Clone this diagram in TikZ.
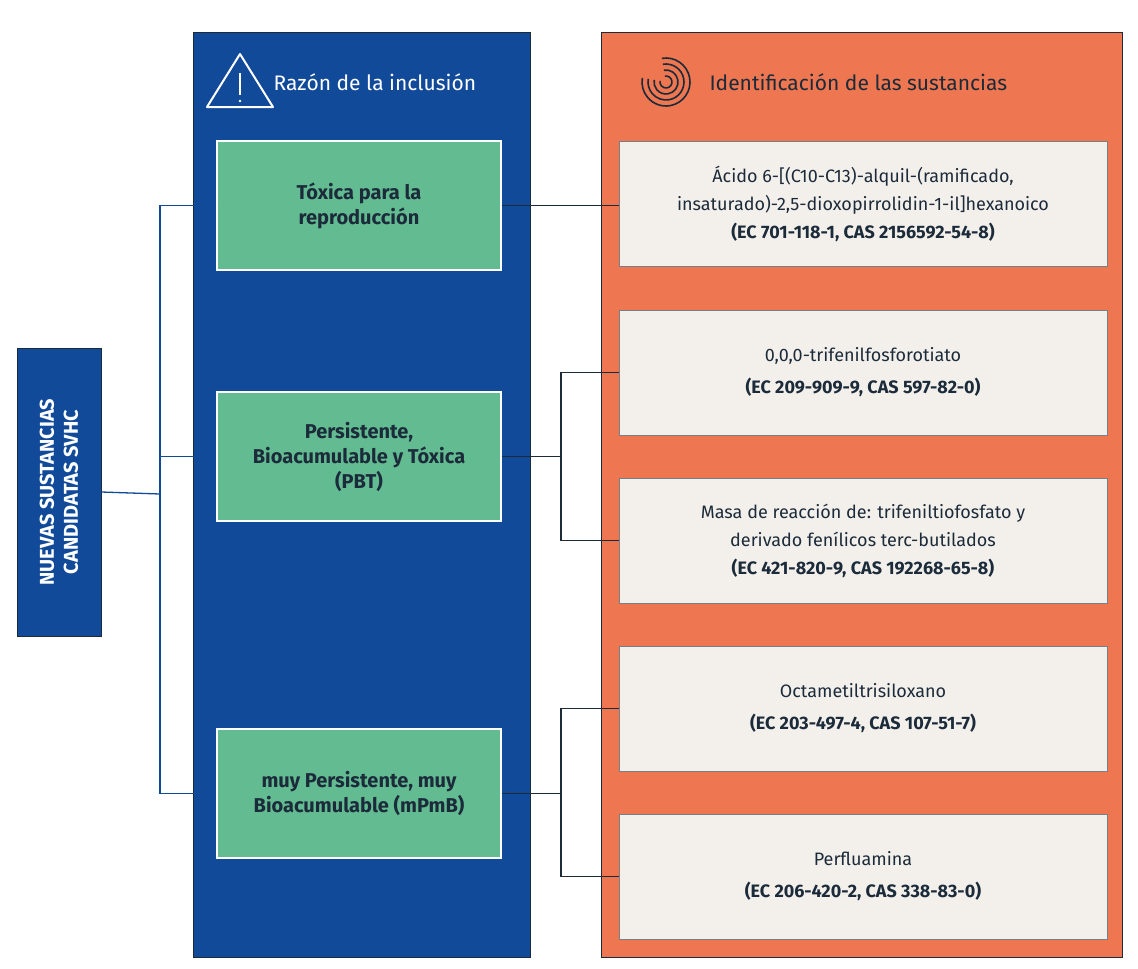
\documentclass[tikz,border=0pt]{standalone}
\usepackage{fontspec}
\setmainfont{Fira Sans}
\begin{document}
\begin{tikzpicture}[x=1pt,y=-1pt,
  ln/.style={draw=blueC,line width=1.3pt},
  gbox/.style={draw=white,line width=1.2pt,fill=greenC,text=textC,font=\fontsize{20}{25}\selectfont\bfseries,align=center,inner sep=0},
  lbox/.style={draw=textC!60,line width=0.8pt,fill=lightC,text=textC,font=\fontsize{18}{28}\selectfont,align=center,inner sep=0}]
\definecolor{blueC}{HTML}{124A9A}
\definecolor{greenC}{HTML}{63BB92}
\definecolor{orangeC}{HTML}{EE7650}
\definecolor{lightC}{HTML}{F3F0EC}
\definecolor{textC}{HTML}{1C2B3A}
\useasboundingbox (0,0) rectangle (1138,969);
\fill[white] (0,0) rectangle (1138,969);
\fill[blueC,draw=textC,line width=1pt] (193,32) rectangle (530,957);
\fill[orangeC,draw=textC,line width=1pt] (601,32) rectangle (1122,957);
\node[fill=blueC,draw=textC,line width=1pt,minimum width=84,minimum height=288,inner sep=0] (L) at (59,492) {};
\node[rotate=90,text=white,font=\fontsize{20}{24}\selectfont\bfseries,align=center] at (L.center) {NUEVAS SUSTANCIAS\\CANDIDATAS SVHC};
% headers
\draw[white,line width=2pt,line join=round] (207,107)--(240,54)--(273,107)--cycle;
\draw[white,line width=1.5pt] (240,73)--(240,95);
\fill[white] (240,101) circle (1.3);
\node[anchor=west,text=white,font=\fontsize{21}{24}\selectfont] (h1) at (270,82) {Razón de la inclusión};
\begin{scope}[shift={(666,82)},textC,line width=1.6pt]
 \foreach \r in {6,12,18,24}{\draw (0,0)++(-100:\r) arc (-100:190:\r);}
\end{scope}
\node[anchor=west,text=textC,font=\fontsize{21}{24}\selectfont] (h2) at (706,82) {Identificación de las sustancias};
% green boxes
\node[gbox,minimum width=284,minimum height=129] (g1) at (359,205.5) {Tóxica para la\\reproducción};
\node[gbox,minimum width=284,minimum height=129] (g2) at (359,456.5) {Persistente,\\Bioacumulable y Tóxica\\(PBT)};
\node[gbox,minimum width=284,minimum height=129] (g3) at (359,793.5) {muy Persistente, muy\\Bioacumulable (mPmB)};
% light boxes
\node[lbox,minimum width=488,minimum height=125] (s1) at (863,203.5) {Ácido 6-[(C10-C13)-alquil-(ramificado,\\insaturado)-2,5-dioxopirrolidin-1-il]hexanoico\\\textbf{(EC 701-118-1, CAS 2156592-54-8)}};
\node[lbox,minimum width=488,minimum height=125] (s2) at (863,372.5) {0,0,0-trifenilfosforotiato\\[4pt]\textbf{(EC 209-909-9, CAS 597-82-0)}};
\node[lbox,minimum width=488,minimum height=125] (s3) at (863,540.5) {Masa de reacción de: trifeniltiofosfato y\\derivado fenílicos terc-butilados\\\textbf{(EC 421-820-9, CAS 192268-65-8)}};
\node[lbox,minimum width=488,minimum height=125] (s4) at (863,708.5) {Octametiltrisiloxano\\[4pt]\textbf{(EC 203-497-4, CAS 107-51-7)}};
\node[lbox,minimum width=488,minimum height=125] (s5) at (863,876.5) {Perfluamina\\[4pt]\textbf{(EC 206-420-2, CAS 338-83-0)}};
% connectors
\coordinate (j0) at (160,494);
\draw[ln] (L.east) -- (j0);
\draw[ln] (g1.west) -| (j0) |- (g3.west);
\draw[ln] (j0) |- (g2.west);
\draw[textC,line width=1.3pt] (g1.east) -- (g1.east -| s1.west);
\coordinate (j1) at (561,456.5);
\coordinate (j2) at (561,793.5);
\draw[textC,line width=1.3pt] (g2.east) -- (j1);
\draw[textC,line width=1.3pt] (s2.west) -| (j1) |- (s3.west);
\draw[textC,line width=1.3pt] (g3.east) -- (j2);
\draw[textC,line width=1.3pt] (s4.west) -| (j2) |- (s5.west);
\end{tikzpicture}
\end{document}
